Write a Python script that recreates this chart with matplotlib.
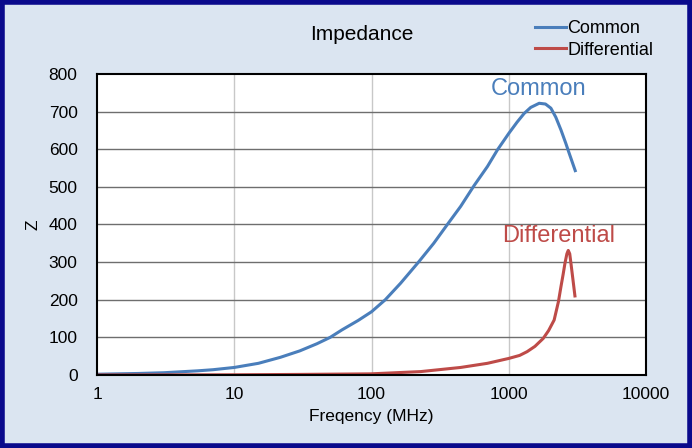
import matplotlib.pyplot as plt
from matplotlib.patches import Rectangle
from matplotlib.ticker import FixedLocator, NullLocator

plt.rcParams['font.family'] = ['Liberation Sans', 'DejaVu Sans']

# frequency (MHz) and impedance
freq_common = [1, 2, 3.08, 5.4, 7, 10, 15, 21.7, 30, 40, 50, 61, 80, 100, 126,
               163, 220, 284, 357, 446, 558, 699, 826, 1000, 1150, 1294, 1445,
               1665, 1850, 2026, 2200, 2400, 2600, 2755, 3048]
z_common = [2, 4, 6, 11, 14, 20, 31, 47, 64, 83, 100, 120, 145, 168, 200,
            244, 300, 350, 400, 448, 503, 554, 598, 642, 672, 695, 711,
            722, 720, 709, 685, 651, 616, 589, 543]

freq_diff = [1, 10, 30, 99, 228, 446, 699, 1000, 1200, 1360, 1550, 1780, 1950,
             2140, 2300, 2400, 2490, 2566, 2650, 2712, 2780, 2836, 2930, 3033]
z_diff = [0, 0.5, 1.5, 3, 9, 20, 31, 44, 52, 62, 76, 97, 118,
          146, 195, 235, 268, 297, 322, 331, 322, 297, 255, 210]

blue = '#4a7ebb'
red = '#be4b48'

fig = plt.figure(figsize=(6.92, 4.48), dpi=100)
fig.patch.set_facecolor('#dbe5f1')
fig.patches.append(Rectangle((0.003, 0.004), 0.994, 0.992, transform=fig.transFigure,
                             fill=False, edgecolor='#0a0a8c', linewidth=4))

ax = fig.add_axes([0.1402, 0.163, 0.7934, 0.672])
ax.set_facecolor('white')
ax.plot(freq_common, z_common, color=blue, linewidth=2.2, label='Common',
        solid_joinstyle='round')
ax.plot(freq_diff, z_diff, color=red, linewidth=2.2, label='Differential',
        solid_joinstyle='round')

ax.set_xscale('log')
ax.set_xlim(1, 10000)
ax.set_ylim(0, 800)
ax.xaxis.set_major_locator(FixedLocator([1, 10, 100, 1000, 10000]))
ax.xaxis.set_minor_locator(NullLocator())
ax.set_xticklabels(['1', '10', '100', '1000', '10000'])
ax.set_yticks(range(0, 801, 100))
ax.tick_params(length=0, labelsize=12.5)
ax.tick_params(axis='x', pad=9)
ax.tick_params(axis='y', pad=14)

for v in [10, 100, 1000]:
    ax.axvline(v, color='#c8c8c8', linewidth=1, zorder=0)
for v in range(100, 800, 100):
    ax.axhline(v, color='#6e6e6e', linewidth=1, zorder=0)
for s in ax.spines.values():
    s.set_color('black')
    s.set_linewidth(1.5)

ax.set_xlabel('Freqency (MHz)', fontsize=12.5, labelpad=5)
ax.set_ylabel('Z', fontsize=12.5, labelpad=6)
fig.text(0.523, 0.924, 'Impedance', fontsize=15, ha='center', va='center')

ax.text(1650, 760, 'Common', color=blue, fontsize=17, ha='center', va='center')
ax.text(2300, 368, 'Differential', color=red, fontsize=17, ha='center', va='center')

fig.legend(loc='upper left', bbox_to_anchor=(535 / 692, 1 - 20 / 448),
           frameon=False, fontsize=13, handlelength=1.7, handletextpad=0.1,
           labelspacing=0.25, borderaxespad=0, borderpad=0)

plt.savefig('out.png', dpi=100, facecolor=fig.get_facecolor())
